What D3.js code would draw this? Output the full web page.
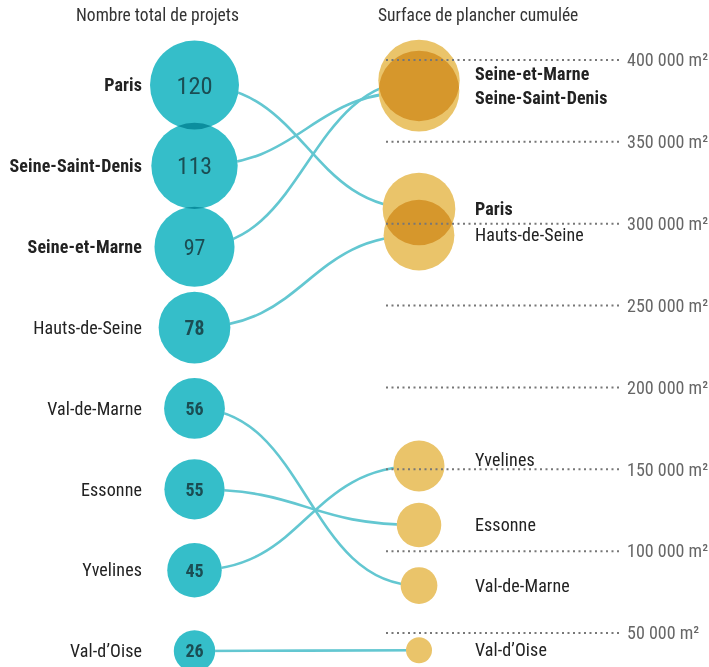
<!DOCTYPE html>
<html>
<head>
<meta charset="utf-8">
<script src="https://cdn.jsdelivr.net/npm/d3@7"></script>
<style>
body { margin: 0; background: #fff; }
svg { font-family: "Roboto Condensed", "Liberation Sans Narrow", "DejaVu Sans Condensed", Roboto, sans-serif; }
</style>
</head>
<body>
<script>
var width = 709,
	height = 667;

// donnees
var departements = ["Paris", "Seine-Saint-Denis", "Seine-et-Marne", "Hauts-de-Seine", "Val-de-Marne", "Essonne", "Yvelines", "Val-d\u2019Oise"];
var projets = [120, 113, 97, 78, 56, 55, 45, 26];
var surface = [309000, 381000, 387500, 293000, 79000, 116000, 152000, 39500];
var ticks = [400000, 350000, 300000, 250000, 200000, 150000, 100000, 50000];
var titreGauche = "Nombre total de projets";
var titreDroite = "Surface de plancher cumul\u00e9e";

var teal = "#35bec9",
	gold = "#eac46a",
	linkColor = "#63c7d1";

var svg = d3.select("body").append("svg").attr("width", width).attr("height", height);

var xL = 194.5,
	xR = 419;

var yL = d3.scalePoint().domain(departements).range([85, 651]);
var yR = d3.scaleLinear().domain([50000, 400000]).range([633, 60]);
var rL = d3.scaleSqrt().domain([0, 120]).range([0, 44.5]);
var rR = d3.scaleSqrt().domain([0, 387500]).range([0, 40.7]);

var fr = d3.formatLocale({ decimal: ",", thousands: " ", grouping: [3], currency: ["", " \u20ac"] });
var fmt = fr.format(",d");

var data = departements.map(function(d, i) {
	return { name: d, n: projets[i], s: surface[i], top: i < 3 };
});

// titres
svg.append("text").attr("x", 157.5).attr("y", 21).attr("text-anchor", "middle")
	.style("font-size", "17.5px").style("fill", "#333").text(titreGauche);
svg.append("text").attr("x", 378).attr("y", 21)
	.style("font-size", "17.5px").style("fill", "#333").text(titreDroite);

// liens
var link = d3.linkHorizontal().x(function(d) { return d[0]; }).y(function(d) { return d[1]; });
svg.append("g").selectAll("path").data(data).enter().append("path")
	.attr("d", function(d) { return link({ source: [xL, yL(d.name)], target: [xR, yR(d.s)] }); })
	.style("fill", "none")
	.style("stroke", linkColor)
	.style("stroke-width", 2.6);

// fonds blancs pour masquer les liens
var under = svg.append("g");
under.selectAll(".wl").data(data).enter().append("circle")
	.attr("cx", xL).attr("cy", function(d) { return yL(d.name); })
	.attr("r", function(d) { return rL(d.n); }).style("fill", "#fff");
under.selectAll(".wr").data(data).enter().append("circle")
	.attr("cx", xR).attr("cy", function(d) { return yR(d.s); })
	.attr("r", function(d) { return rR(d.s); }).style("fill", "#fff");

var circles = svg.append("g");
circles.selectAll(".cl").data(data).enter().append("circle").attr("class", "cl")
	.attr("cx", xL).attr("cy", function(d) { return yL(d.name); })
	.attr("r", function(d) { return rL(d.n); })
	.style("fill", teal).style("mix-blend-mode", "multiply");
circles.selectAll(".cr").data(data).enter().append("circle").attr("class", "cr")
	.attr("cx", xR).attr("cy", function(d) { return yR(d.s); })
	.attr("r", function(d) { return rR(d.s); })
	.style("fill", gold).style("mix-blend-mode", "multiply");

// grille pointillee
var grid = svg.append("g");
grid.selectAll("line").data(ticks).enter().append("line")
	.attr("x1", 386).attr("x2", 621)
	.attr("y1", function(d) { return yR(d); }).attr("y2", function(d) { return yR(d); })
	.style("stroke", "#777").style("stroke-width", 2).style("stroke-dasharray", "2,3.5");
grid.selectAll("text").data(ticks).enter().append("text")
	.attr("x", 627).attr("y", function(d) { return yR(d); }).attr("dy", "0.35em")
	.style("font-size", "18px").style("fill", "#666")
	.text(function(d) { return fmt(d) + " m\u00b2"; });

// etiquettes gauche
svg.append("g").selectAll("text").data(data).enter().append("text")
	.attr("x", 142).attr("y", function(d) { return yL(d.name); }).attr("dy", "0.35em")
	.attr("text-anchor", "end")
	.style("font-size", "18px").style("letter-spacing", "0.1px")
	.style("font-weight", function(d) { return d.top ? "bold" : "normal"; })
	.style("fill", "#222")
	.text(function(d) { return d.name; });

// nombres
svg.append("g").selectAll("text").data(data).enter().append("text")
	.attr("x", xL).attr("y", function(d) { return yL(d.name); }).attr("dy", "0.36em")
	.attr("text-anchor", "middle")
	.style("font-size", function(d) { return Math.max(18, rL(d.n) * 0.55) + "px"; })
	.style("font-weight", function(d) { return rL(d.n) > 38 ? "normal" : "bold"; })
	.style("fill", "#1b4d53")
	.text(function(d) { return d.n; });

// etiquettes droite : eviter les pointilles puis les chevauchements
var lab = data.map(function(d) {
	var y = yR(d.s) + 6;
	ticks.forEach(function(t) {
		var ty = yR(t);
		if (ty > y - 14 && ty < y + 2) y = ty - 3;
	});
	return { d: d, y: y };
}).sort(function(a, b) { return a.y - b.y; });
for (var i = 1; i < lab.length; i++) {
	var gap = lab[i].y - lab[i - 1].y;
	if (gap < 24) {
		var push = (24 - gap) / 2;
		lab[i - 1].y -= push;
		lab[i].y += push;
	}
}
svg.append("g").selectAll("text").data(lab).enter().append("text")
	.attr("x", 475).attr("y", function(l) { return l.y; })
	.style("font-size", "18px").style("letter-spacing", "0.1px")
	.style("font-weight", function(l) { return l.d.top ? "bold" : "normal"; })
	.style("fill", "#222")
	.text(function(l) { return l.d.name; });
</script>
</body>
</html>
